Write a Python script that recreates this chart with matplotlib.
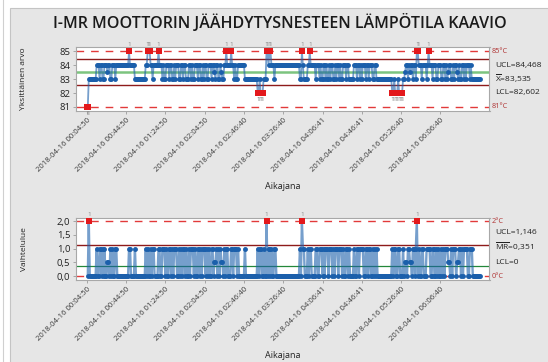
import numpy as np
import matplotlib
matplotlib.use('Agg')
import matplotlib.pyplot as plt
import matplotlib.transforms as mtransforms
from matplotlib.patches import Rectangle
from matplotlib.lines import Line2D

# individual temperature readings, stored as runs (level, how many points in a row)
ind_levels = [
    81, 83,
    84, 83, 84, 83, 84, 83.5, 84, 83, 84, 83,
    84, 85, 84,
    83,
    84, 85, 84, 83, 84, 85, 84,
    84, 83, 84, 83, 84, 83, 84, 83, 84, 83, 84, 83, 84, 83, 84, 83, 84, 83, 84, 83,
    84, 83, 84, 83, 84, 83, 84, 83, 84, 83,
    84, 83.5, 83, 84, 83, 84, 83.5, 83, 84,
    85, 84, 85, 84, 83, 84, 83, 84,
    83, 82, 83, 82, 83,
    83, 85, 84, 85, 84,
    83, 84, 83,
    85, 84, 83, 84, 85, 84,
    84, 83, 84,
    83, 84, 83, 84, 83, 84, 83, 84, 83, 84, 83, 84, 83, 84, 83, 84, 83,
    84, 83, 84, 83, 84, 83, 84, 83, 84, 83, 84, 83, 84, 83, 84, 83, 84, 83,
    83,
    82, 83, 82, 83, 82, 83,
    83, 83.5, 84, 83, 84, 83.5, 84, 83, 84,
    84, 83, 85, 84,
    83, 84, 83, 84, 85, 84, 83, 84, 83, 84, 83,
    84, 83, 84, 83, 83.5, 84, 83, 84, 83, 84, 83.5, 83, 84, 83, 84, 83, 84, 83,
    84, 83, 84,
    83,
]
ind_counts = [
    2, 8,
    3, 1, 2, 2, 3, 1, 2, 2, 3, 1,
    13, 1, 5,
    11,
    2, 3, 2, 1, 5, 1, 1,
    2, 1, 1, 2, 3, 1, 2, 2, 1, 1, 3, 2, 2, 1, 2, 3, 2, 1, 1, 2,
    3, 1, 2, 2, 1, 1, 2, 2, 3, 1,
    2, 1, 1, 2, 2, 1, 1, 2, 2,
    1, 4, 1, 2, 1, 1, 2, 7,
    13, 2, 1, 3, 2,
    1, 2, 1, 2, 3,
    1, 25, 2,
    1, 1, 4, 2, 1, 1,
    4, 1, 3,
    1, 1, 2, 2, 1, 1, 2, 1, 1, 2, 2, 1, 1, 2, 1, 1, 2,
    3, 1, 2, 5, 3, 1, 2, 1, 1, 1, 3, 1, 2, 1, 3, 2, 2, 1,
    15,
    2, 1, 3, 1, 4, 1,
    1, 1, 2, 1, 1, 1, 2, 1, 1,
    1, 1, 2, 3,
    1, 4, 1, 1, 1, 3, 1, 3, 2, 3, 2,
    2, 1, 1, 1, 1, 2, 2, 1, 1, 2, 1, 1, 1, 2, 2, 1, 1, 1,
    3, 1, 1,
    9,
]

# time stamps written under the x ticks (one tick every 40 observations)
tick_step = 40
tick_labels = ['2018-04-16 00:04:50', '2018-04-16 00:44:50', '2018-04-16 01:24:50',
               '2018-04-16 02:04:50', '2018-04-16 02:46:40', '2018-04-16 03:26:40',
               '2018-04-16 04:06:41', '2018-04-16 04:46:41', '2018-04-16 05:26:40',
               '2018-04-16 06:06:40']

# control / spec limits printed on the chart
i_ucl, i_mean, i_lcl = 84.468, 83.535, 82.602
i_spec_hi, i_spec_lo = 85, 81
mr_ucl, mr_mean, mr_lcl = 1.146, 0.351, 0.0
mr_spec_hi, mr_spec_lo = 2, 0

BLUE = '#1b5fab'
RED = '#e3191c'
DARKRED = '#8e1b1b'
SPECRED = '#e23a3a'

plt.rcParams['font.family'] = ['Open Sans', 'DejaVu Sans']
plt.rcParams['mathtext.fontset'] = 'custom'
plt.rcParams['mathtext.rm'] = 'Open Sans'

values = np.repeat(np.array(ind_levels, dtype=float), ind_counts)
idx = np.arange(len(values))
mr = np.full(len(values), np.nan)
mr[1:] = np.abs(np.diff(values))

fig = plt.figure(figsize=(5.48, 3.62), dpi=100)
fig.patch.set_facecolor('white')
fig.patches.append(Rectangle((10 / 548, -0.01), 1.0, 1.01 - 8 / 362, transform=fig.transFigure,
                             fc='#e6e6e6', ec='#c4c4c4', lw=0.8, zorder=-10))
fig.lines.append(Line2D([3 / 548, 3 / 548], [0, 1], transform=fig.transFigure,
                        color='#d0d0d0', lw=0.8))

fig.text(280 / 548, 1 - 23 / 362, 'I-MR MOOTTORIN JÄÄHDYTYSNESTEEN LÄMPÖTILA KAAVIO',
         ha='center', va='center', fontsize=11.5, fontweight='semibold', color='#1a1a1a')

ax1 = fig.add_axes([76 / 548, 1 - 111 / 362, 413.5 / 548, 64 / 362])
ax2 = fig.add_axes([76 / 548, 1 - 280 / 362, 413.5 / 548, 62 / 362])


def draw_panel(ax, y, ucl, mean, lcl, spec_hi, spec_lo, green, green_lw, flag_hi, flag_lo, line_lw):
    ax.set_facecolor('white')
    ax.axhline(spec_hi, color=SPECRED, lw=1, ls=(0, (5.5, 5)), zorder=1)
    ax.axhline(spec_lo, color=SPECRED, lw=1, ls=(0, (5.5, 5)), zorder=1)
    ax.axhline(ucl, color=DARKRED, lw=1, zorder=2)
    if lcl > 0:
        ax.axhline(lcl, color=DARKRED, lw=1, zorder=2)
    ax.axhline(mean, color=green, lw=green_lw, zorder=2)
    ax.plot(idx, y, color=BLUE, lw=line_lw, alpha=0.6, zorder=3)
    ax.plot(idx, y, ls='none', marker='o', ms=3.5, mfc=BLUE, mec=BLUE, mew=0, zorder=4)
    hi = y > flag_hi
    lo = y < flag_lo
    bad = hi | lo
    ax.plot(idx[bad], y[bad], ls='none', marker='s', ms=4.4, mfc=RED, mec=RED, mew=0, zorder=5)
    for i in idx[hi]:
        ax.annotate('1', (i, y[i]), xytext=(0, 3), textcoords='offset points',
                    ha='center', va='bottom', fontsize=4.5, color='#8c8c8c')
    for i in idx[lo]:
        ax.annotate('1', (i, y[i]), xytext=(0, -3), textcoords='offset points',
                    ha='center', va='top', fontsize=4.5, color='#8c8c8c')
    ax.set_xlim(-11, 410)
    ax.set_xticks(np.arange(len(tick_labels)) * tick_step)
    ax.set_xticklabels(tick_labels, rotation=45, ha='right', rotation_mode='anchor',
                       fontsize=5.6, color='#3a3a3a')
    ax.set_xlabel('Aikajana', fontsize=6.5, color='#222222', labelpad=6)
    ax.tick_params(axis='both', length=2.5, width=0.6, color='#9a9a9a', pad=1.5)
    ax.tick_params(axis='y', labelsize=6.8, labelcolor='#222222')
    for s in ax.spines.values():
        s.set_color('#a8a8a8')
        s.set_linewidth(0.8)


# individual values chart
draw_panel(ax1, values, i_ucl, i_mean, i_lcl, i_spec_hi, i_spec_lo, '#7cc47f', 1.8,
           i_ucl, i_lcl, 1.3)
ax1.set_ylim(80.71, 85.32)
ax1.set_yticks([81, 82, 83, 84, 85])
ax1.set_ylabel('Yksittäinen arvo', fontsize=6, color='#222222')
ax1.yaxis.set_label_coords(-0.118, 0.5)

# moving range chart
draw_panel(ax2, mr, mr_ucl, mr_mean, mr_lcl, mr_spec_hi, mr_spec_lo, '#23883a', 0.9,
           mr_ucl, -1, 1.7)
ax2.set_ylim(-0.145, 2.11)
ax2.set_yticks([0, 0.5, 1.0, 1.5, 2.0])
ax2.set_yticklabels(['0,0', '0,5', '1,0', '1,5', '2,0'])
ax2.set_ylabel('Vaihtelulue', fontsize=6, color='#222222')
ax2.yaxis.set_label_coords(-0.116, 0.5)

# labels to the right of the plots
for ax, spec_txt, lim_txt in [
        (ax1, [(85, '85°C'), (81, '81°C')],
         [(84.0, 'UCL=84,468'), (83.0, r'$\mathregular{\overline{X}}$=83,535'), (82.05, 'LCL=82,602')]),
        (ax2, [(2, '2°C'), (0, '0°C')],
         [(1.6, 'UCL=1,146'), (1.04, r'$\mathregular{\overline{MR}}$=0,351'), (0.5, 'LCL=0')])]:
    tr = mtransforms.blended_transform_factory(ax.transAxes, ax.transData)
    for yv, t in spec_txt:
        ax.text(1.006, yv, t, transform=tr, fontsize=5.3, color='#b03434', va='center', ha='left')
    for yv, t in lim_txt:
        ax.text(1.013, yv, t, transform=tr, fontsize=6.0, color='#222222', va='center', ha='left')

fig.savefig('out.png', dpi=100)
